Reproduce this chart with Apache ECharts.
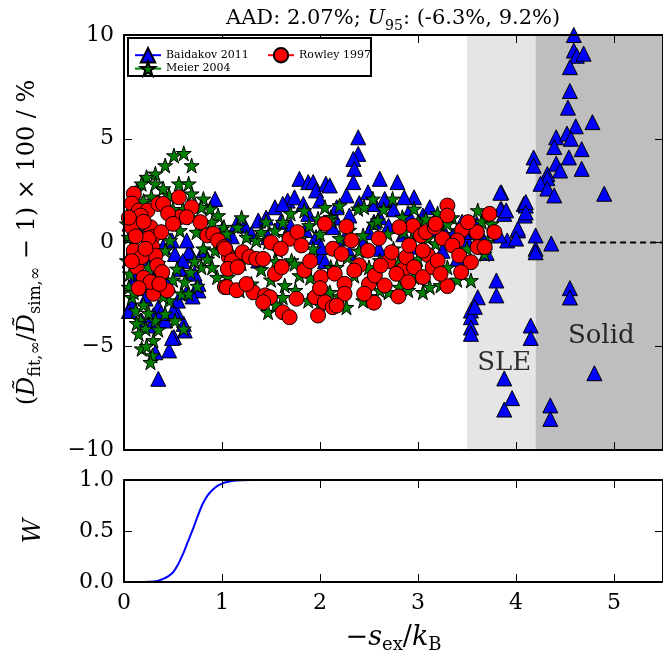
<!DOCTYPE html>
<html><head><meta charset="utf-8">
<script src="https://cdn.jsdelivr.net/npm/echarts@6/dist/echarts.min.js"></script>
<style>html,body{margin:0;padding:0;background:#fff}#c{width:663px;height:665px}</style>
</head><body><div id="c"></div>
<script>
// ---- data ----
const baidakov = [
[0.35,-6.57],[0.32,-5.29],[0.46,-5.2],[0.51,-4.56],[0.62,-4.24],[0.61,-3.92],[0.42,-3.76],[0.18,-3.76],[0.54,-3.36],[0.35,-3.12],[0.08,-2.95],[0.64,-2.4],[0.76,-2.31],[0.76,-1.99],[0.57,-1.27],[0.69,-0.63],[0.52,-0.55],[0.66,-0.47],[0.81,-0.39],[0.64,0.1],[0.49,0.1],[0.93,2.1],
[0.12,-1.6],[0.2,-2.2],[0.25,-0.8],[0.15,0.5],[0.3,-1.8],[0.45,-2.0],[0.05,-3.3],[0.28,-4.0],[0.49,-4.6],
[0.3,-3.5],[0.38,-3.4],[0.55,-2.8],[0.7,-2.6],[0.72,-1.5],[0.6,-0.9],[0.4,-0.2],[0.22,-2.7],[0.1,-2.0],[0.5,-3.3],
[1.23,0.82],[1.37,1.06],[1.54,1.7],[1.67,2.02],[1.62,1.86],[1.79,3.07],[1.88,2.91],[1.93,2.91],[1.96,2.51],[2.06,2.83],[1.74,2.18],[1.83,1.86],[2.0,2.02],[1.88,1.38],[1.96,0.26],[2.0,-0.71],[2.01,-0.22],[1.47,0.26],[1.37,-0.87],[1.1,0.3],[1.0,0.6],[1.3,0.4],
[1.15,0.9],[1.45,1.2],[1.6,1.0],[1.7,0.8],[1.85,0.6],[2.15,1.2],[2.25,0.2],[2.4,1.9],[2.55,1.0],[2.75,1.6],[2.85,0.4],[3.05,1.3],[3.2,0.6],[3.35,0.3],[3.5,0.1],[3.55,0.5],[3.65,0.3],[2.05,-0.9],[2.3,-0.5],[2.6,-0.3],[2.95,-0.2],[3.25,-0.4],
[2.39,5.07],[2.39,4.27],[2.34,4.03],[2.35,3.55],[2.34,2.91],[2.10,2.75],[2.61,3.07],[2.79,2.91],[2.96,2.18],[3.12,1.7],[2.86,2.18],[2.27,2.27],[2.49,2.42],[2.66,2.1],[2.56,1.86],[2.17,1.7],[2.61,1.22],[3.17,1.06],[2.13,0.74],[2.44,-0.06],[2.3,1.3],[2.7,0.8],[2.9,1.4],[3.0,0.5],[2.5,0.5],
[3.85,2.42],[3.85,1.62],[4.02,0.58],[4.08,1.86],[4.2,0.34],[4.2,-0.3],[3.8,-1.83],[3.8,-2.55],[3.61,-2.64],[3.54,-3.28],[3.54,-3.6],[4.15,-4.0],[3.88,1.38],[3.91,0.1],[3.27,0.5],[3.83,0.34],[3.3,1.3],[3.45,1.0],[3.6,0.9],[3.7,-0.5],[3.4,-0.8],
[4.10,1.78],[4.09,1.3],[4.02,0.67],[4.0,0.19],[4.2,-0.47],[4.36,-0.05],[3.58,-3.1],[3.54,-4.1],[3.54,-4.4],[4.15,-4.6],[4.55,-2.2],[4.55,-2.65],[3.88,-6.55],[3.96,-7.5],[3.88,-8.05],[4.35,-7.85],[4.35,-8.5],[4.80,-6.3],
[4.59,10.0],[4.59,9.25],[4.62,9.0],[4.69,9.1],[4.55,8.45],[4.55,7.3],[4.53,6.5],[4.61,5.6],[4.78,5.8],[4.41,5.07],[4.52,5.25],[4.56,5.0],[4.39,4.6],[4.67,4.5],[4.18,4.1],[4.18,3.7],[4.54,4.1],[4.41,3.8],[4.45,3.47],[4.67,3.55],[4.32,3.3],[4.32,3.1],[4.25,2.83],[4.32,2.6],[4.39,2.27],[4.9,2.35],[3.84,2.4],[3.84,1.6],[3.9,1.55],[4.1,1.95],[4.1,1.45]
];
const meier = [
[0.51,4.19],[0.61,4.3],[0.69,3.71],[0.42,3.71],[0.32,3.31],[0.23,3.15],[0.18,2.83],[0.13,2.5],[0.56,2.83],[0.66,2.83],[0.69,2.35],[0.81,2.1],[0.88,1.62],[0.96,1.3],[1.02,0.74],[0.32,2.83],[0.46,2.27],[0.79,1.7],
[0.05,-2.15],[0.08,-2.64],[0.12,-3.28],[0.17,-3.76],[0.22,-4.16],[0.30,-4.72],[0.18,-5.12],[0.29,-5.45],[0.27,-5.77],[0.32,-3.76],[0.42,-3.44],[0.52,-3.76],[0.61,-4.16],[0.18,-1.99],[0.32,-2.23],[0.46,-2.8],[0.59,-2.47],[0.66,-2.47],[0.79,-1.19],[0.95,-1.67],[0.68,-1.43],[0.54,-1.27],[0.57,0.58],[0.47,0.1],[0.42,-0.39],[0.03,0.9],[0.05,0.26],[0.03,-0.87],[0.06,-1.51],[0.74,0.5],[0.90,0.98],[0.81,-0.3],[0.93,-0.39],
[0.1,0.0],[0.2,-0.3],[0.25,-1.2],[0.38,-1.6],[0.5,-1.8],[0.62,-1.9],[0.72,-0.9],[0.85,-0.8],[0.6,1.6],[0.5,1.6],[0.7,1.2],[0.85,0.4],[0.98,0.0],[0.4,2.6],[0.28,2.2],[0.2,2.0],[0.9,-1.2],[0.75,-2.1],[0.4,-2.6],[0.2,-3.0],[0.25,-3.4],[0.35,-4.2],[0.15,-4.4],[0.23,-5.0],[0.1,-2.4],[0.13,-3.9],
[1.05,0.42],[1.16,0.74],[1.25,0.26],[1.35,0.1],[1.40,0.5],[1.47,0.02],[1.54,0.58],[1.57,-0.39],[1.62,0.98],[1.71,-0.87],[1.84,1.54],[1.89,0.82],[1.98,1.14],[2.05,1.7],[2.11,1.22],[1.93,-0.3],[1.79,-1.59],[1.64,-2.07],[1.47,-3.36],[1.62,-2.64],[1.88,-2.8],[1.18,-2.31],[1.06,-1.67],[1.30,-1.99],[2.01,-2.23],[2.10,-2.4],[2.11,-1.19],[1.74,-1.03],
[1.1,-0.5],[1.2,-1.0],[1.3,-0.6],[1.4,-1.3],[1.5,-1.8],[1.55,-0.9],[1.65,0.3],[1.7,1.4],[1.8,0.2],[1.9,-1.7],[2.0,0.4],[2.2,0.2],[2.35,-1.6],[2.4,-0.4],[2.5,-1.2],[2.55,0.9],[2.65,1.6],[2.8,-1.0],[2.85,0.5],[3.0,1.0],[3.05,-2.4],[3.1,0.2],[3.2,1.4],[3.25,0.4],[3.35,1.2],[3.4,-1.8],[3.5,-0.3],[3.6,0.2],[3.65,1.0],[3.75,0.9],[1.35,-2.4],[1.55,-3.0],[1.75,-2.3],[2.0,-3.0],[2.2,-2.6],[2.5,-2.6],[2.7,-2.4],[2.9,-2.3],
[2.20,1.78],[2.39,1.62],[2.45,1.7],[2.54,2.1],[2.74,2.1],[2.96,1.62],[3.08,1.14],[2.59,1.06],[2.44,0.34],[2.69,0.42],[2.84,1.22],[2.11,1.06],[2.17,-1.19],[2.44,-2.8],[2.27,-3.12],[2.61,-2.31],[2.81,-2.15],[2.96,-1.67],[3.12,-2.15],[2.28,-0.71],[2.61,-0.87],[2.93,0.1],[3.18,-0.06],
[3.61,1.54],[3.30,0.9],[3.57,0.58],[3.49,0.66],[3.68,-0.55],[3.54,-1.83],[3.23,-2.07],[3.71,0.02],[3.42,0.58],
[1.2,1.2],[1.45,1.0],[2.3,0.6],[2.75,-0.3],[3.3,-1.2],[3.0,-0.8],[0.1,1.5],[0.25,0.5],[0.35,-1.0],[0.15,-0.5]
];
const rowley = [
[0.10,2.35],[0.08,1.88],[0.15,1.54],[0.24,1.54],[0.35,1.86],[0.40,1.86],[0.56,2.18],[0.69,1.7],[0.57,1.22],[0.64,1.22],[0.78,0.98],[0.85,0.34],[0.91,0.42],[0.96,0.1],[1.02,-0.22],[1.07,-0.7],[1.03,-2.15],
[0.08,0.74],[0.17,1.3],[0.27,0.74],[0.29,0.26],[0.29,-0.22],[0.10,-0.39],[0.32,-0.63],[0.34,-1.1],[0.13,-1.19],[0.39,-1.43],[0.30,-2.47],[0.44,-2.31],[0.18,-0.7],
[0.2,1.0],[0.25,0.2],[0.05,1.2],[0.12,0.3],[0.22,-0.3],[0.38,0.5],[0.45,1.4],[0.5,0.9],[0.2,-1.7],[0.27,-1.9],[0.36,-2.0],[0.08,-0.9],[0.15,-2.2],
[1.03,-0.3],[1.10,-0.87],[1.06,-1.27],[1.05,-2.15],[1.21,-0.47],[1.28,-0.7],[1.35,-0.79],[1.42,-0.79],[1.16,-1.19],[1.32,-2.4],[1.44,-2.55],[1.49,-2.64],[1.42,-2.88],[1.54,-1.51],[1.61,-1.19],[1.62,-3.36],[1.69,-3.6],[1.69,0.18],[1.77,0.5],[1.81,-0.14],[1.84,-1.35],[2.01,-1.67],[1.76,-2.71],[1.95,-2.64],[2.05,-2.88],[2.13,-3.12],[1.98,-3.52],
[1.15,-2.3],[1.25,-2.0],[1.5,0.0],[1.6,-0.3],[1.9,-0.9],[2.05,0.9],[2.0,-2.2],[2.15,-1.5],[2.4,-1.1],[2.5,-2.0],[2.6,0.2],[2.7,-0.9],[2.85,-1.3],[2.95,0.8],[3.1,-0.6],[3.25,0.2],[3.45,0.6],[3.6,0.5],[3.3,-2.1],[2.55,-2.9],[2.8,-2.6],
[2.27,0.77],[2.32,0.1],[2.13,-0.3],[2.22,-0.55],[2.49,-0.39],[2.81,0.74],[2.73,-0.47],[2.88,-0.71],[2.91,-0.14],[3.03,0.34],[3.08,0.5],[3.05,-0.39],[3.17,0.74],[2.35,-1.35],[2.56,-1.59],[2.62,-1.11],[2.78,-1.51],[2.96,-1.19],[3.05,-1.67],[2.90,-1.91],[2.66,-2.07],[2.25,-1.99],[2.25,-2.47],[2.45,-2.47],[2.17,-3.04],[3.15,-1.19],
[3.30,1.78],[3.30,1.3],[3.18,0.9],[3.51,0.98],[3.73,1.38],[3.78,0.5],[3.40,0.1],[3.35,-0.14],[3.61,-0.22],[3.68,-0.22],[3.42,-0.63],[3.54,-0.95],[3.20,-0.87],[3.23,-1.51],[3.44,-1.43]
];
const bands = [[3.5,4.2,'#e5e5e5'],[4.2,5.5,'#bebebe']];
const regionLabels = [[3.88,-5.8,'SLE'],[4.87,-4.5,'Solid']];
const zeroLine = [[4.45,0],[5.5,0]];
const wX = [0,0.1,0.2,0.3,0.35,0.4,0.45,0.5,0.55,0.6,0.65,0.7,0.75,0.8,0.85,0.9,0.95,1.0,1.05,1.1,1.15,1.2,1.3,1.5,2,3,4,5,5.5];
const wY = [0,0,0.001,0.005,0.012,0.03,0.055,0.095,0.17,0.27,0.39,0.51,0.64,0.76,0.845,0.9,0.94,0.965,0.98,0.99,0.995,0.998,1,1,1,1,1,1,1];
const xTicks = [0,1,2,3,4,5];
const titleText = '{p|AAD: 2.07%; }{i|U}{s|95}{p|: (-6.3%, 9.2%)}';

// ---- chart ----
const F = 'DejaVu Serif';
const chart = echarts.init(document.getElementById('c'), null, {renderer:'canvas'});
const starPath = 'path://M0,-10 L2.245,-3.09 L9.511,-3.09 L3.633,1.18 L5.878,8.09 L0,3.82 L-5.878,8.09 L-3.633,1.18 L-9.511,-3.09 L-2.245,-3.09 Z';
const GL = 124, GW = 541;
function xAx(grid, pos, labels) {
  return {type:'value', gridIndex:grid, position:pos, min:0, max:5.5, interval:1, z:5,
    axisLine:{show:true, onZero:false, lineStyle:{color:'#000', width:2}},
    axisTick:{show:true, inside:true, length:8, lineStyle:{color:'#000', width:1}},
    axisLabel:{show:labels, showMaxLabel:false, color:'#000', fontFamily:F, fontSize:22, margin:10,
      formatter:v => xTicks.includes(v) ? String(v) : ''},
    splitLine:{show:false}};
}
const yName = {
  p:{fontFamily:F, fontSize:24, fontWeight:'normal', color:'#000', lineHeight:32},
  i:{fontFamily:F, fontSize:24, fontStyle:'italic', fontWeight:'normal', color:'#000', lineHeight:32},
  s:{fontFamily:F, fontSize:16, fontWeight:'normal', color:'#000', lineHeight:17, verticalAlign:'bottom'}
};
const option = {
  animation:false,
  title:{text:titleText, left:221, top:0, textStyle:{fontWeight:'normal', rich:{
    p:{fontFamily:F, fontSize:21, fontWeight:'normal', color:'#000', lineHeight:28},
    i:{fontFamily:F, fontSize:21, fontStyle:'italic', fontWeight:'normal', color:'#000', lineHeight:28},
    s:{fontFamily:F, fontSize:14, fontWeight:'normal', color:'#000', lineHeight:15, verticalAlign:'bottom'}}}},
  grid:[{left:GL, top:35, width:GW, height:415},{left:GL, top:480, width:GW, height:102}],
  xAxis:[xAx(0,'bottom',false), xAx(0,'top',false), Object.assign(xAx(1,'bottom',true),{
      name:'{p|−}{i|s}{s|ex}{p|/}{i|k}{s|B}', nameLocation:'middle', nameGap:40,
      nameTextStyle:{rich:{p:{fontFamily:F,fontSize:27,color:'#000',lineHeight:32},i:{fontFamily:F,fontSize:27,fontStyle:'italic',color:'#000',lineHeight:32},s:{fontFamily:F,fontSize:18,color:'#000',lineHeight:17,verticalAlign:'bottom'}}}}),
    xAx(1,'top',false)],
  yAxis:[
    {type:'value', gridIndex:0, position:'left', min:-10, max:10, interval:5, z:5,
     axisLine:{show:true, onZero:false, lineStyle:{color:'#000', width:2}},
     axisTick:{show:true, inside:true, length:8, lineStyle:{color:'#000'}},
     axisLabel:{color:'#000', fontFamily:F, fontSize:22, margin:10, formatter:v => v<0 ? '−'+Math.abs(v) : String(v)},
     splitLine:{show:false},
     name:'{p|(}{i|D̃}{s|fit,∞}{p|/}{i|D̃}{s|sim,∞}{p| − 1) × 100 / %}', nameLocation:'middle', nameGap:80,
     nameTextStyle:{rich:yName}},
    {type:'value', gridIndex:0, position:'right', min:-10, max:10, interval:5, z:5,
     axisLine:{show:true, onZero:false, lineStyle:{color:'#000', width:2}},
     axisTick:{show:true, inside:true, length:8, lineStyle:{color:'#000'}},
     axisLabel:{show:false}, splitLine:{show:false}},
    {type:'value', gridIndex:1, position:'left', min:0, max:1, interval:0.5, z:5,
     axisLine:{show:true, onZero:false, lineStyle:{color:'#000', width:2}},
     axisTick:{show:true, inside:true, length:8, lineStyle:{color:'#000'}},
     axisLabel:{color:'#000', fontFamily:F, fontSize:22, margin:10, formatter:v => v.toFixed(1)},
     splitLine:{show:false},
     name:'W', nameLocation:'middle', nameGap:78, nameTextStyle:{fontFamily:F, fontSize:24, fontStyle:'italic', color:'#000'}},
    {type:'value', gridIndex:1, position:'right', min:0, max:1, interval:0.5, z:5,
     axisLine:{show:true, onZero:false, lineStyle:{color:'#000', width:2}},
     axisTick:{show:true, inside:true, length:8, lineStyle:{color:'#000'}},
     axisLabel:{show:false}, splitLine:{show:false}}
  ],
  legend:[
    {data:['Baidakov 2011','Meier 2004'], orient:'vertical', left:129, top:42, itemGap:-3, itemWidth:26, itemHeight:18, z:20,
     textStyle:{fontFamily:F, fontSize:11, color:'#000'}, lineStyle:{opacity:1, width:2}},
    {data:['Rowley 1997'], orient:'vertical', left:262, top:42, itemWidth:26, itemHeight:18, z:20,
     textStyle:{fontFamily:F, fontSize:11, color:'#000'}, lineStyle:{opacity:1, width:2}}
  ],
  graphic:[{type:'rect', shape:{x:128, y:38, width:243, height:38}, style:{fill:'#fff', stroke:'#000', lineWidth:2}, z:15}],
  series:[
    {type:'line', name:'bands', xAxisIndex:0, yAxisIndex:0, data:[], z:1, silent:true,
     markArea:{silent:true, data:bands.map(b => [{xAxis:b[0], yAxis:-10, itemStyle:{color:b[2]}},{xAxis:b[1], yAxis:10}])}},
    {type:'line', name:'zero', xAxisIndex:0, yAxisIndex:0, data:zeroLine, z:2, symbol:'none',
     lineStyle:{color:'#000', width:2, type:[6,4]}},
    {type:'scatter', name:'labels', xAxisIndex:0, yAxisIndex:0, z:2, symbolSize:0, silent:true,
     data:regionLabels.map(r => ({value:[r[0],r[1]], name:r[2]})),
     label:{show:true, position:'inside', formatter:p => p.name, fontFamily:F, fontSize:26, color:'#000'}},
    {type:'line', name:'Baidakov 2011', xAxisIndex:0, yAxisIndex:0, data:baidakov, z:3,
     symbol:'triangle', symbolSize:15, lineStyle:{color:'#0000ff', opacity:0},
     itemStyle:{color:'#0000ff', borderColor:'#000', borderWidth:1}},
    {type:'line', name:'Meier 2004', xAxisIndex:0, yAxisIndex:0, data:meier, z:3,
     symbol:starPath, symbolSize:15, lineStyle:{color:'#008000', opacity:0},
     itemStyle:{color:'#008000', borderColor:'#000', borderWidth:1}},
    {type:'line', name:'Rowley 1997', xAxisIndex:0, yAxisIndex:0, data:rowley, z:3,
     symbol:'circle', symbolSize:15, lineStyle:{color:'#ff0000', opacity:0},
     itemStyle:{color:'#ff0000', borderColor:'#000', borderWidth:1}},
    {type:'line', name:'W', xAxisIndex:2, yAxisIndex:2, data:wX.map((x,i)=>[x,wY[i]]), symbol:'none', smooth:0.3,
     lineStyle:{color:'#0000ff', width:2}}
  ]
};
chart.setOption(option);
</script></body></html>
